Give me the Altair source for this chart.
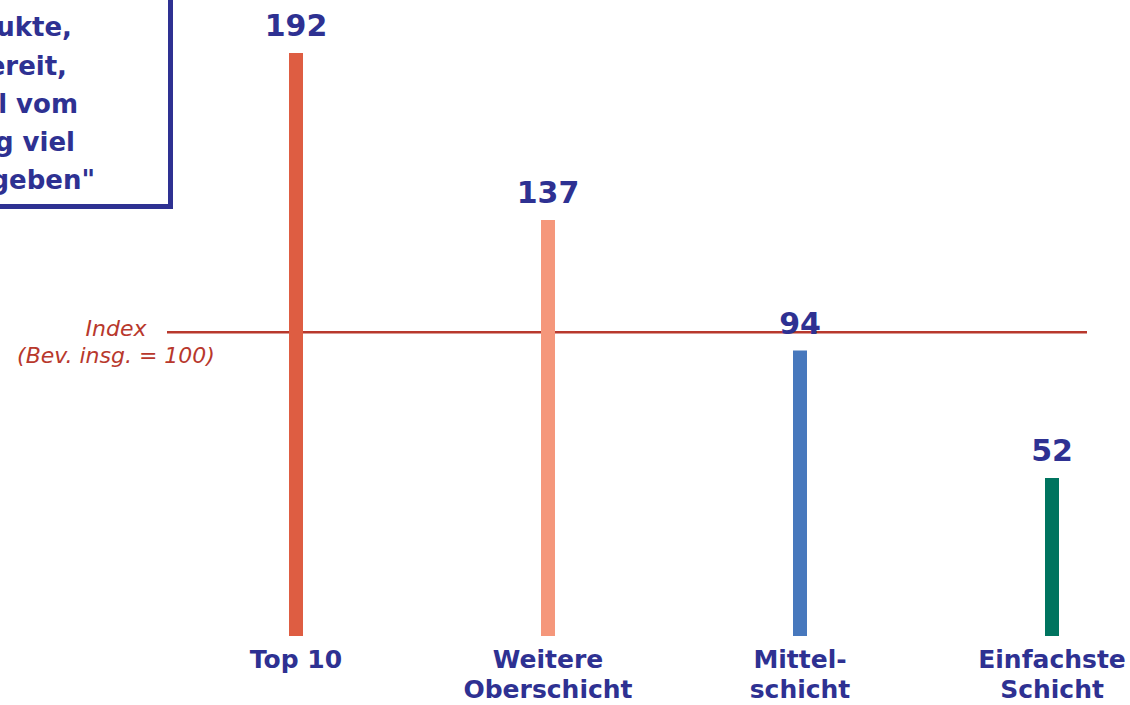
import altair as alt
import pandas as pd

# ---- data ----
categories = ["Top 10", "Weitere Oberschicht", "Mittelschicht", "Einfachste Schicht"]
label_lines = ["Top 10", "Weitere\nOberschicht", "Mittel-\nschicht", "Einfachste\nSchicht"]
values = [192, 137, 94, 52]
index_value = 100
index_label = "Index\n(Bev. insg. = 100)"
quote_lines = [
    "„Für Markenprodukte,",
    "bin ich gerne bereit,",
    "einen großen Teil vom",
    "Einkommen richtig viel",
    "Geld auszugeben\"",
]

# ---- styles / layout ----
bar_colors = ["#de5d42", "#f5977b", "#4778bd", "#00745f"]
navy = "#2e3192"
red = "#b8382c"
quote_x_end = [72, 67, 78, 75, 95]
quote_y_base = [36, 75, 113, 151, 189]

df = pd.DataFrame({
    "pos": list(range(len(categories))),
    "cat": categories,
    "label": label_lines,
    "value": values,
})

xscale = alt.Scale(domain=[0, 3], range=[296, 1052], padding=0, nice=False, zero=False)
yscale = alt.Scale(domain=[0, 192], range=[636, 53], nice=False)
xs = alt.X("pos:Q", scale=xscale, axis=None)
ys = alt.Y("value:Q", scale=yscale, axis=None)

base = alt.Chart(df)

rule = alt.Chart(pd.DataFrame({"value": [index_value]})).mark_rule(
    color=red, strokeWidth=2.5
).encode(y=ys, x=alt.value(167), x2=alt.value(1087))

index_text = alt.Chart(pd.DataFrame({"value": [index_value], "t": [index_label]})).mark_text(
    font="DejaVu Sans", fontStyle="italic", fontSize=22, color=red,
    align="center", baseline="alphabetic", lineBreak="\n", lineHeight=27, dy=4,
).encode(y=ys, x=alt.value(116), text="t:N")

bars = base.mark_bar(size=14).encode(
    x=xs, y=ys,
    color=alt.Color("cat:N", scale=alt.Scale(domain=categories, range=bar_colors), legend=None),
)

nums = base.mark_text(
    font="DejaVu Sans", fontWeight="bold", fontSize=30, color=navy,
    align="center", baseline="alphabetic", dy=-17,
).encode(x=xs, y=ys, text="value:Q")

cats = base.mark_text(
    font="DejaVu Sans", fontWeight="bold", fontSize=25, color=navy,
    align="center", baseline="top", lineBreak="\n", lineHeight=30,
).encode(x=xs, y=alt.value(648), text="label:N")

box = alt.Chart(pd.DataFrame({"a": [0]})).mark_rect(
    fill="white", stroke=navy, strokeWidth=5
).encode(x=alt.value(-20), x2=alt.value(170.5), y=alt.value(-20), y2=alt.value(206.5))

layers = [rule, bars, nums, cats, index_text, box]
for line, xe, yb in zip(quote_lines, quote_x_end, quote_y_base):
    layers.append(
        alt.Chart(pd.DataFrame({"t": [line]})).mark_text(
            font="DejaVu Sans", fontWeight="bold", fontSize=26, color=navy,
            align="right", baseline="alphabetic",
        ).encode(x=alt.value(xe), y=alt.value(yb), text="t:N")
    )

chart = alt.layer(*layers).properties(
    width=1130, height=705,
    autosize=alt.AutoSizeParams(type="none"),
    padding=0,
    background="white",
).configure_view(stroke=None)

chart.save("out.html", embed_options={"renderer": "svg", "actions": False})
